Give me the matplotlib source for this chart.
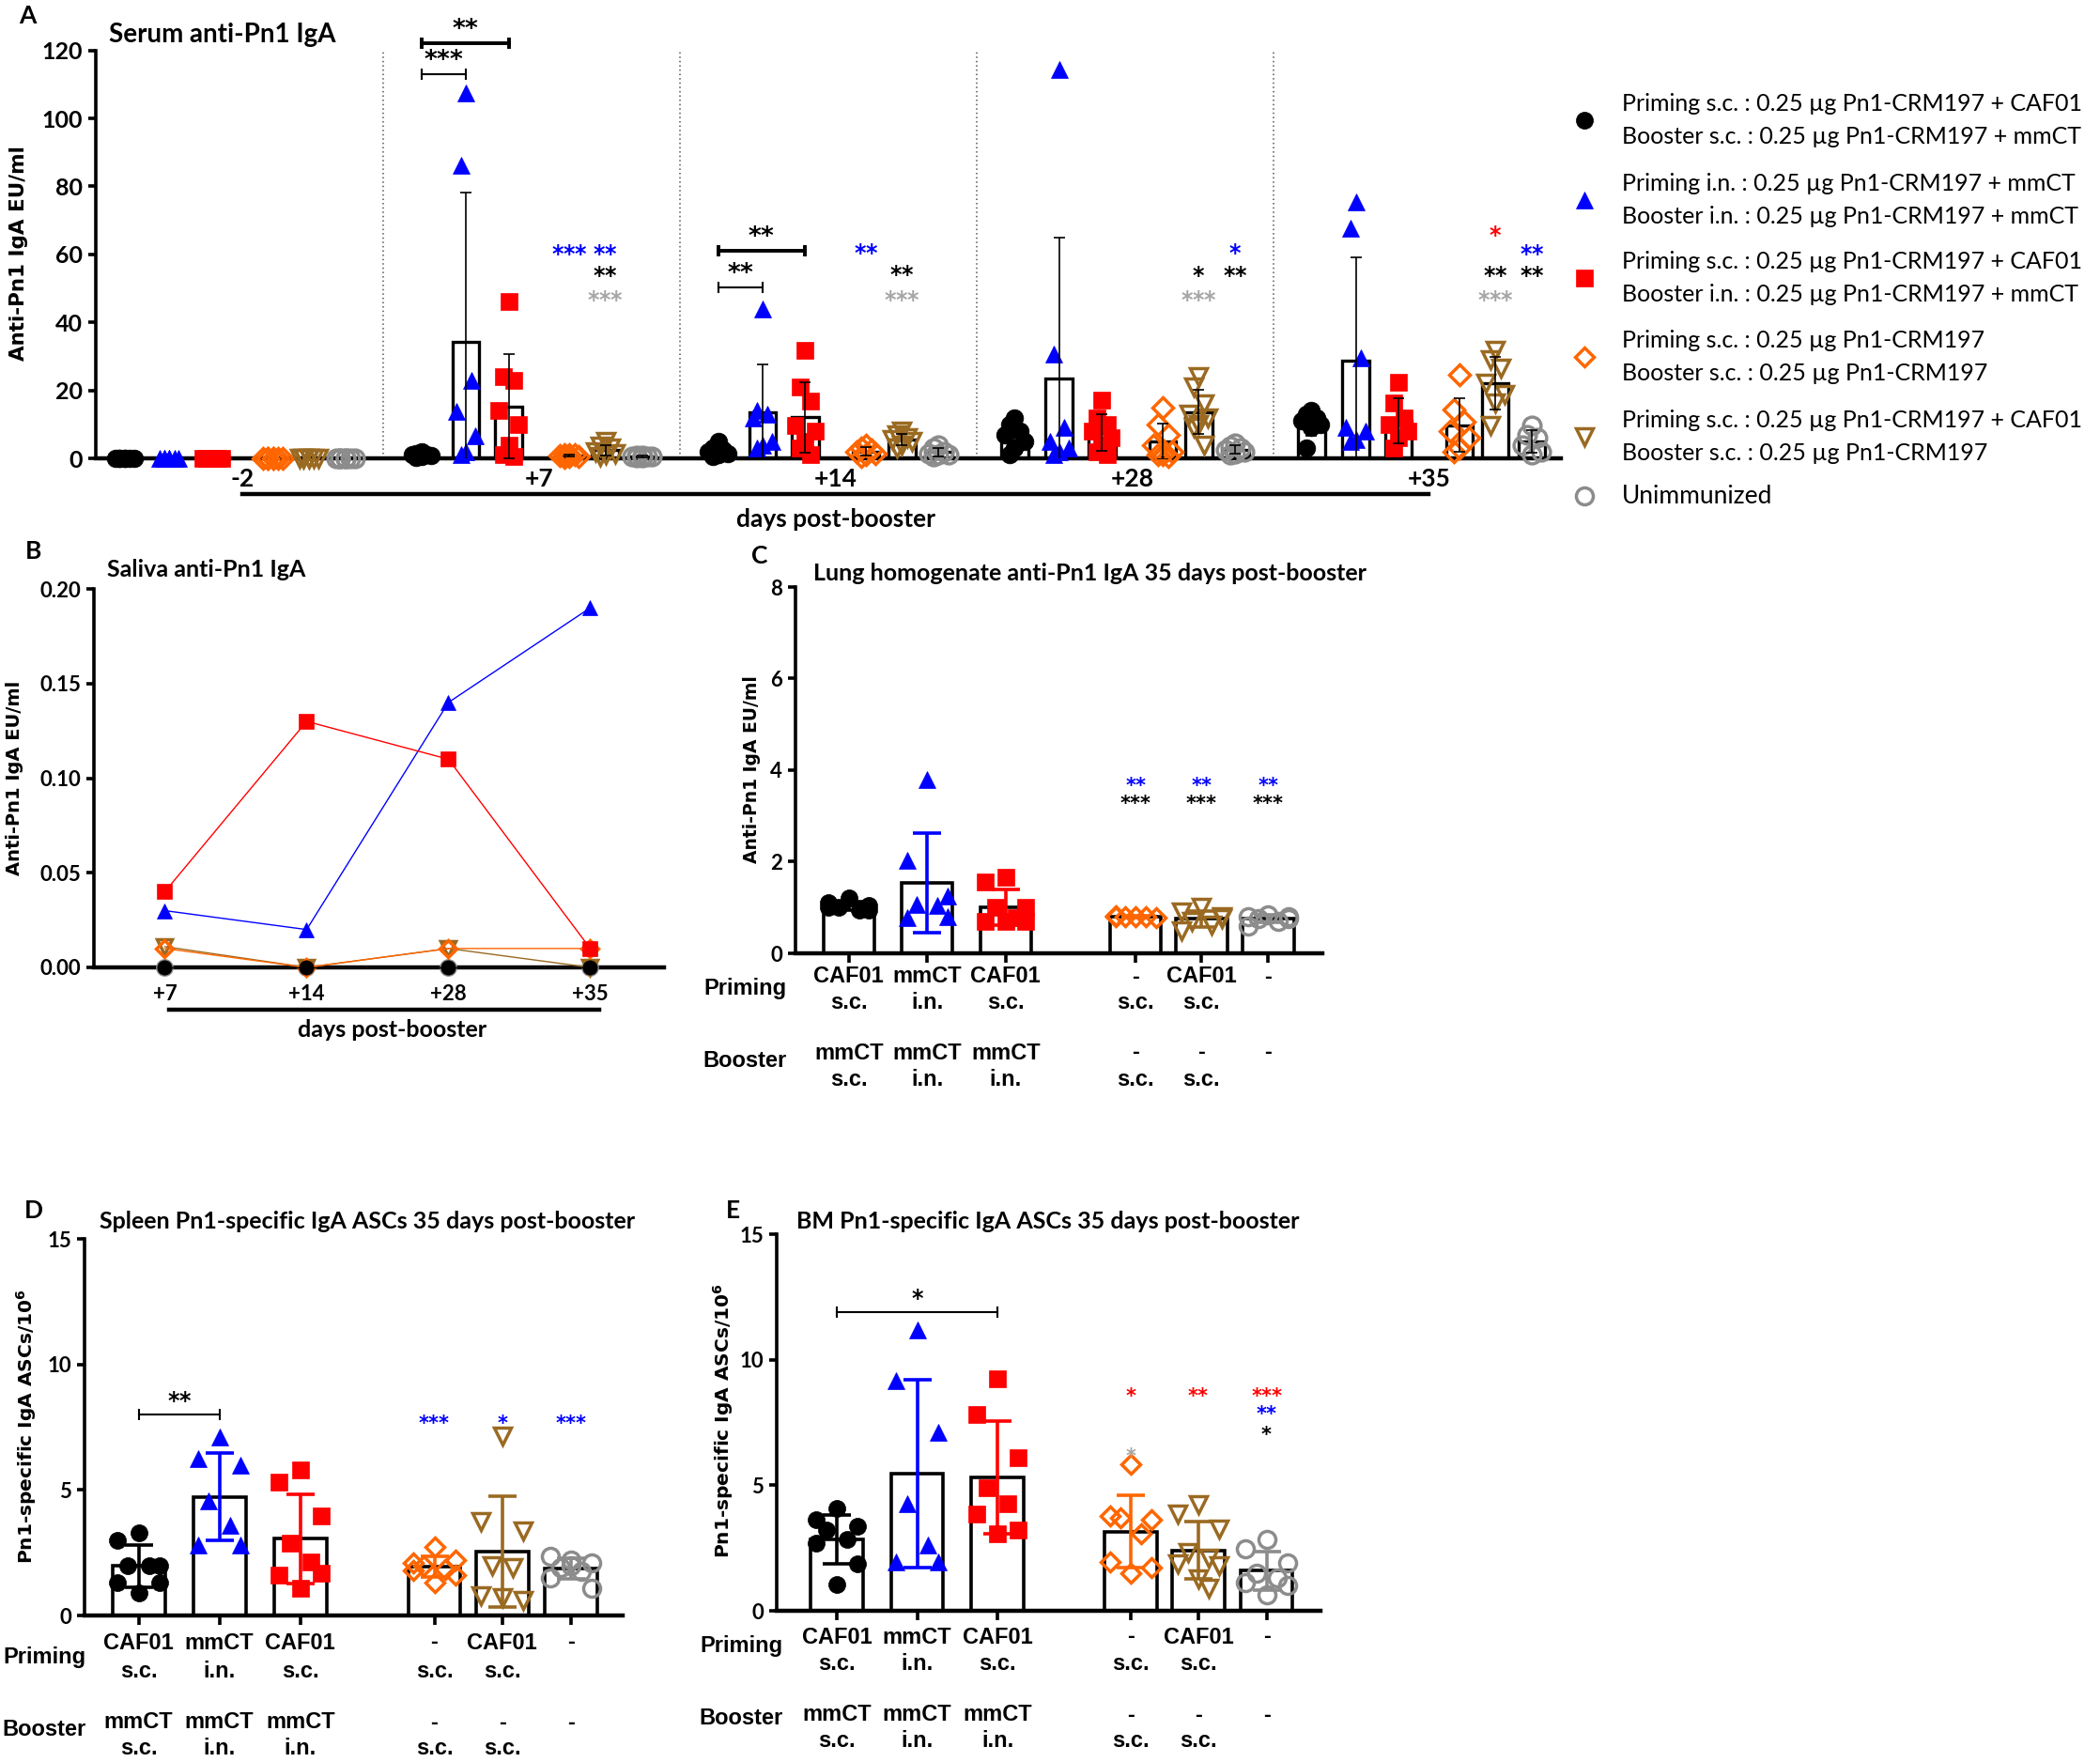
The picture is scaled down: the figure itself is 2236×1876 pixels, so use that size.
import matplotlib
matplotlib.use("Agg")
import matplotlib.pyplot as plt
import matplotlib.transforms as mtransforms
import numpy as np

W, H = 2236, 1876

BLACK = "#000000"
BLUE = "#0000FF"
RED = "#FF0000"
ORANGE = "#FF6600"
BROWN = "#9A6A22"
GRAY = "#8C8C8C"
STAR_GRAY = "#A6A6A6"

COLORS = [BLACK, BLUE, RED, ORANGE, BROWN, GRAY]
MARKERS = ["o", "^", "s", "D", "v", "o"]
OPEN = [False, False, False, True, True, True]

LEGEND_TOP = [
    "Priming s.c. : 0.25 µg Pn1-CRM197 + CAF01",
    "Priming i.n. : 0.25 µg Pn1-CRM197 + mmCT",
    "Priming s.c. : 0.25 µg Pn1-CRM197 + CAF01",
    "Priming s.c. : 0.25 µg Pn1-CRM197",
    "Priming s.c. : 0.25 µg Pn1-CRM197 + CAF01",
    "Unimmunized",
]
LEGEND_BOTTOM = [
    "Booster s.c. : 0.25 µg Pn1-CRM197 + mmCT",
    "Booster i.n. : 0.25 µg Pn1-CRM197 + mmCT",
    "Booster i.n. : 0.25 µg Pn1-CRM197 + mmCT",
    "Booster s.c. : 0.25 µg Pn1-CRM197",
    "Booster s.c. : 0.25 µg Pn1-CRM197",
    "",
]

# ---- panel A: serum IgA, one list per day ----
A_DAYS = ["-2", "+7", "+14", "+28", "+35"]
A_BLACK = [
    [0, 0, 0, 0, 0, 0, 0],
    [2.0, 1.5, 1.2, 1.0, 0.8, 0.5, 0.3],
    [5.0, 3.0, 2.5, 2.0, 1.5, 1.0, 0.5],
    [12.0, 10.0, 8.0, 7.0, 5.0, 3.0, 1.0],
    [14.0, 13.0, 12.0, 11.0, 10.0, 9.0, 3.0],
]
A_BLUE = [
    [0, 0, 0, 0, 0, 0, 0],
    [107.5, 86.3, 23.0, 13.8, 6.6, 2.0, 1.0],
    [44.0, 14.0, 13.0, 12.0, 5.0, 4.0, 3.0],
    [114.4, 30.6, 9.2, 5.0, 3.0, 2.0, 1.0],
    [75.4, 67.6, 29.6, 9.2, 8.0, 5.6, 5.0],
]
A_RED = [
    [0, 0, 0, 0, 0, 0, 0, 0],
    [46.0, 24.0, 23.0, 14.0, 10.0, 4.0, 1.0, 0.5],
    [31.7, 20.9, 16.9, 9.7, 8.0, 5.1, 3.0, 1.0],
    [17.0, 12.0, 10.0, 8.0, 6.0, 4.0, 2.0, 1.0],
    [22.5, 16.3, 12.0, 10.0, 8.0, 6.0, 3.0],
]
A_ORANGE = [
    [0, 0, 0, 0, 0, 0, 0],
    [1.2, 1.0, 1.0, 0.8, 0.6, 0.5, 0.3],
    [4.0, 3.0, 2.5, 2.0, 1.5, 1.0, 0.5],
    [15.0, 10.0, 7.0, 4.0, 2.0, 1.0, 1.0, 0.5],
    [24.5, 14.3, 10.7, 8.0, 6.0, 3.0, 2.0],
]
A_BROWN = [
    [0, 0, 0, 0, 0, 0, 0],
    [5.0, 3.5, 3.0, 2.0, 1.5, 1.0, 0.5],
    [8.0, 7.0, 6.0, 5.5, 5.0, 4.0, 3.0],
    [24.0, 21.0, 16.0, 13.0, 12.0, 10.0, 9.0, 4.0],
    [31.7, 29.0, 26.6, 22.0, 18.9, 16.3, 9.7],
]
A_GRAY = [
    [0, 0, 0, 0, 0, 0, 0],
    [0.8, 0.7, 0.6, 0.5, 0.5, 0.4, 0.3],
    [4.0, 3.0, 2.0, 1.5, 1.0, 1.0, 0.5],
    [4.5, 3.5, 3.0, 2.5, 2.0, 1.5, 1.0],
    [9.7, 7.0, 6.0, 4.0, 2.0, 1.0],
]
# (day, slot, y, text, colour)
A_STARS = [
    (1, 3, 61.3, "***", BLUE), (1, 4, 61.3, "**", BLUE), (1, 4, 54.9, "**", BLACK), (1, 4, 47.5, "***", STAR_GRAY),
    (2, 3, 61.5, "**", BLUE), (2, 4, 55.0, "**", BLACK), (2, 4, 47.5, "***", STAR_GRAY),
    (3, 5, 61.4, "*", BLUE), (3, 4, 54.9, "*", BLACK), (3, 5, 54.9, "**", BLACK), (3, 4, 47.5, "***", STAR_GRAY),
    (4, 4, 66.6, "*", RED), (4, 5, 61.1, "**", BLUE), (4, 4, 54.9, "**", BLACK), (4, 5, 54.9, "**", BLACK),
    (4, 4, 47.5, "***", STAR_GRAY),
]
# (day, slot from, slot to, y, text, line width)
A_BRACKETS = [
    (1, 0, 1, 113.0, "***", 1.5),
    (1, 0, 2, 122.0, "**", 2.8),
    (2, 0, 1, 50.3, "**", 1.5),
    (2, 0, 2, 61.0, "**", 2.8),
]

# ---- panel B: saliva IgA (pooled) ----
B_DAYS = ["+7", "+14", "+28", "+35"]
B_BLACK = [0.0, 0.0, 0.0, 0.0]
B_BLUE = [0.03, 0.02, 0.14, 0.19]
B_RED = [0.04, 0.13, 0.11, 0.01]
B_ORANGE = [0.01, 0.0, 0.01, 0.01]
B_BROWN = [0.011, 0.0, 0.01, 0.0]
B_GRAY = [0.0, 0.0, 0.0, 0.0]

# ---- panel C/D/E category rows ----
PRIMING_TOP = ["CAF01", "mmCT", "CAF01", "-", "CAF01", "-"]
PRIMING_BOTTOM = ["s.c.", "i.n.", "s.c.", "s.c.", "s.c.", ""]
BOOSTER_TOP = ["mmCT", "mmCT", "mmCT", "-", "-", "-"]
BOOSTER_BOTTOM = ["s.c.", "i.n.", "i.n.", "s.c.", "s.c.", ""]

# ---- panel C: lung homogenate ----
C_VALUES = [
    [1.22, 1.10, 1.05, 1.00, 0.95, 1.00, 0.95],
    [3.79, 2.03, 1.26, 1.06, 1.05, 0.77, 0.81],
    [1.67, 1.55, 1.00, 1.00, 0.77, 0.70, 0.70, 0.70],
    [0.80, 0.82, 0.78, 0.80, 0.79, 0.81],
    [1.00, 0.90, 0.80, 0.70, 0.61, 0.49, 0.75],
    [0.85, 0.80, 0.80, 0.75, 0.70, 0.60, 0.75],
]
C_STARS = [(3, 3.74, "**", BLUE), (3, 3.36, "***", BLACK), (4, 3.74, "**", BLUE), (4, 3.36, "***", BLACK),
           (5, 3.74, "**", BLUE), (5, 3.36, "***", BLACK)]

# ---- panel D: spleen ASCs ----
D_VALUES = [
    [3.30, 3.00, 2.00, 2.00, 2.00, 1.30, 1.30, 0.90],
    [7.10, 6.25, 6.00, 4.56, 3.60, 2.80, 2.80],
    [5.80, 5.30, 3.97, 2.87, 2.13, 1.62, 1.70, 1.10],
    [2.72, 2.10, 2.20, 2.00, 1.84, 1.80, 1.60, 1.32],
    [7.13, 3.75, 3.38, 2.00, 1.90, 0.80, 0.60, 0.70],
    [2.20, 2.35, 2.10, 1.90, 1.76, 1.50, 1.10, 2.00],
]
D_STARS = [(3, 7.8, "***", BLUE), (4, 7.8, "*", BLUE), (5, 7.8, "***", BLUE)]
D_BRACKET = (0, 1, 8.0, "**")

# ---- panel E: bone marrow ASCs ----
E_VALUES = [
    [4.08, 3.64, 3.37, 3.20, 2.83, 2.70, 1.87, 1.06],
    [11.18, 9.16, 7.10, 4.27, 2.60, 1.94, 1.94],
    [9.23, 7.83, 6.11, 4.89, 4.27, 3.86, 3.20, 3.08],
    [5.85, 3.78, 3.64, 3.70, 3.05, 1.94, 1.72, 1.50],
    [4.23, 3.86, 3.27, 2.31, 2.10, 1.87, 1.80, 1.28, 0.90],
    [2.83, 2.46, 1.90, 1.50, 1.30, 1.13, 1.00, 0.62],
]
E_STARS = [(3, 8.69, "*", RED), (3, 6.29, "*", STAR_GRAY), (4, 8.69, "**", RED),
           (5, 8.69, "***", RED), (5, 7.98, "**", BLUE), (5, 7.14, "*", BLACK)]
E_BRACKET = (0, 2, 11.88, "*")

# layout
A_STEP = 6.87
A_SLOTS = [0.0, 1.03, 2.02, 3.43, 4.26, 5.11]
A_JITTER = [0.0, -0.12, 0.12, -0.22, 0.22, 0.0, -0.12, 0.12]
CDE_POS = [0.0, 1.0, 2.0, 3.66, 4.5, 5.35]
CDE_JITTER = [0.0, -0.26, 0.26, -0.13, 0.13, -0.26, 0.26, 0.0, 0.13]

plt.rcParams.update({
    "font.family": ["Lato", "DejaVu Sans"],
    "font.weight": "bold",
    "mathtext.fontset": "dejavusans",
    "axes.linewidth": 2.6,
    "xtick.major.width": 2.6,
    "ytick.major.width": 2.6,
    "xtick.major.size": 6,
    "ytick.major.size": 6,
    "xtick.labelsize": 16,
    "ytick.labelsize": 16,
})

fig = plt.figure(figsize=(W / 100, H / 100), dpi=100)


def px_axes(x0, y0, x1, y1):
    ax = fig.add_axes([x0 / W, 1 - y1 / H, (x1 - x0) / W, (y1 - y0) / H])
    ax.spines["top"].set_visible(False)
    ax.spines["right"].set_visible(False)
    ax.tick_params(axis="both", direction="out", pad=4)
    return ax


def mstyle(i, size):
    m = MARKERS[i]
    st = dict(marker=m, linestyle="none", markersize=size * (0.82 if m == "D" else 1.0))
    if OPEN[i]:
        st.update(markerfacecolor="none", markeredgecolor=COLORS[i], markeredgewidth=2.5)
    else:
        st.update(markerfacecolor=COLORS[i], markeredgecolor=COLORS[i], markeredgewidth=0.5)
    return st


def stars(ax, x, y, text, color, size=15):
    # braces keep mathtext from spacing the asterisks as operators
    s = r"$\mathbf{" + "".join("{*}" for _ in text) + "}$"
    ax.annotate(s, (x, y), xytext=(0, -0.40 * size), textcoords="offset points",
                ha="center", va="baseline", color=color, fontsize=size,
                annotation_clip=False, zorder=6)


def bracket(ax, x0, x1, y, lw):
    ax.plot([x0, x1], [y, y], color=BLACK, lw=lw, marker="|", markersize=8,
            markeredgewidth=lw, clip_on=False, zorder=6)


ov = fig.add_axes([0, 0, 1, 1], zorder=10)
ov.set_xlim(0, W)
ov.set_ylim(H, 0)
ov.axis("off")


def ylab(x, y, text, size):
    ov.text(x, y, text, rotation=90, ha="center", va="center", fontsize=size,
            fontweight="bold", family="DejaVu Sans")


def title(x, y, text, size=18):
    ov.text(x, y, text, ha="left", va="center", fontsize=size, fontweight="bold")


# ================= panel A =================
axA = px_axes(102, 53.6, 1662, 488)
axA.set_xlim(-0.67, 4 * A_STEP + A_SLOTS[-1] + 0.67)
axA.set_ylim(0, 120)
axA.set_yticks(np.arange(0, 121, 20))
axA.set_xticks([])
axA.tick_params(axis="y", labelsize=18)
axA.spines["bottom"].set_linewidth(3.2)

a_series = [A_BLACK, A_BLUE, A_RED, A_ORANGE, A_BROWN, A_GRAY]
for d in range(len(A_DAYS)):
    base = d * A_STEP
    for i, series in enumerate(a_series):
        vals = np.array(series[d], dtype=float)
        x = base + A_SLOTS[i]
        mean = vals.mean()
        sd = vals.std(ddof=1)
        axA.bar(x, mean, width=0.62, facecolor="none", edgecolor=BLACK, linewidth=2.4, zorder=2)
        xs = [x + A_JITTER[k % len(A_JITTER)] for k in range(len(vals))]
        axA.plot(xs, vals, clip_on=False, zorder=3, **mstyle(i, 13.5))
        if mean > 0:
            axA.errorbar(x, mean, yerr=sd, fmt="none", ecolor=BLACK, elinewidth=1.2,
                         capsize=4.5, capthick=1.2, zorder=4)
    if d > 0:
        axA.axvline(base - (A_STEP - A_SLOTS[-1]) / 2, color="#555555", lw=1.1,
                    linestyle=(0, (1, 2)), zorder=1)

for d, slot, y, txt, col in A_STARS:
    stars(axA, d * A_STEP + A_SLOTS[slot], y, txt, col, 17)
for d, s0, s1, y, txt, lw in A_BRACKETS:
    x0 = d * A_STEP + A_SLOTS[s0]
    x1 = d * A_STEP + A_SLOTS[s1]
    bracket(axA, x0, x1, y, lw)
    stars(axA, (x0 + x1) / 2, y + 5.5, txt, BLACK, 19)

trA = mtransforms.blended_transform_factory(axA.transData, ov.transData)
for d, lab in enumerate(A_DAYS):
    ov.text(d * A_STEP + 2.72, 510, lab, transform=trA, ha="center", va="center", fontsize=19)
ov.plot([2.72, 4 * A_STEP + 2.72], [526, 526], color=BLACK, lw=3.2, transform=trA)
ov.text(2 * A_STEP + 2.72, 553, "days post-booster", transform=trA, ha="center", va="center", fontsize=19)
ylab(20, 270, "Anti-Pn1 IgA EU/ml", 15.5)
title(116, 37, "Serum anti-Pn1 IgA", 20)
ov.text(29, 17, "A", ha="center", va="center", fontsize=19, fontweight="bold")

# legend
leg_y = [128, 213, 296, 380, 465, 528]
for i, y in enumerate(leg_y):
    ov.plot([1687], [y], **mstyle(i, 13))
    if LEGEND_BOTTOM[i]:
        ov.text(1727, y - 17.5, LEGEND_TOP[i], ha="left", va="center", fontsize=18, fontweight="normal")
        ov.text(1727, y + 17.5, LEGEND_BOTTOM[i], ha="left", va="center", fontsize=18, fontweight="normal")
    else:
        ov.text(1727, y, LEGEND_TOP[i], ha="left", va="center", fontsize=19, fontweight="normal")

# ================= panel B =================
axB = px_axes(100, 627, 707, 1030)
axB.set_xlim(-0.5, 3.52)
axB.set_ylim(0, 0.2)
axB.set_yticks([0, 0.05, 0.10, 0.15, 0.20])
axB.set_yticklabels(["0.00", "0.05", "0.10", "0.15", "0.20"])
axB.set_xticks(range(len(B_DAYS)))
axB.set_xticklabels(B_DAYS)
axB.tick_params(axis="x", pad=7)
axB.spines["bottom"].set_linewidth(3.2)
xB = np.arange(len(B_DAYS))
for i, series in [(5, B_GRAY), (4, B_BROWN), (3, B_ORANGE), (0, B_BLACK), (1, B_BLUE), (2, B_RED)]:
    st = mstyle(i, 11)
    st.pop("linestyle")
    axB.plot(xB, series, color=COLORS[i], lw=1.0, clip_on=False, zorder=3, **st)
trB = mtransforms.blended_transform_factory(axB.transData, ov.transData)
ov.plot([0.03, 3.06], [1075, 1075], color=BLACK, lw=3.2, transform=trB)
ov.text(1.6, 1096, "days post-booster", transform=trB, ha="center", va="center", fontsize=18)
ylab(16, 828, "Anti-Pn1 IgA EU/ml", 14)
title(114, 606, "Saliva anti-Pn1 IgA")
ov.text(36, 587, "B", ha="center", va="center", fontsize=19, fontweight="bold")


# ================= panels C, D, E =================
def bar_panel(rect, xlim, ylim, yticks, values, marker_size):
    ax = px_axes(*rect)
    ax.set_xlim(*xlim)
    ax.set_ylim(*ylim)
    ax.set_yticks(yticks)
    ax.set_xticks(CDE_POS)
    ax.set_xticklabels([])
    ax.tick_params(axis="x", length=7)
    ax.spines["bottom"].set_linewidth(3.2)
    for i, vals in enumerate(values):
        vals = np.array(vals, dtype=float)
        x = CDE_POS[i]
        ax.bar(x, vals.mean(), width=0.65, facecolor="none", edgecolor=BLACK, linewidth=2.6, zorder=2)
        xs = [x + CDE_JITTER[k % len(CDE_JITTER)] for k in range(len(vals))]
        ax.plot(xs, vals, clip_on=False, zorder=3, **mstyle(i, marker_size))
        ax.errorbar(x, vals.mean(), yerr=vals.std(ddof=1), fmt="none", ecolor=COLORS[i],
                    elinewidth=2.6, capsize=11, capthick=2.6, zorder=4)
    return ax


def rows(ax, label_x, pri, boo):
    tr = mtransforms.blended_transform_factory(ax.transData, ov.transData)
    kw = dict(ha="center", va="center", fontsize=17, fontweight="bold", family="Liberation Sans")
    for i, x in enumerate(CDE_POS):
        ov.text(x, pri[0], PRIMING_TOP[i], transform=tr, **kw)
        if PRIMING_BOTTOM[i]:
            ov.text(x, pri[1], PRIMING_BOTTOM[i], transform=tr, **kw)
        ov.text(x, boo[0], BOOSTER_TOP[i], transform=tr, **kw)
        if BOOSTER_BOTTOM[i]:
            ov.text(x, boo[1], BOOSTER_BOTTOM[i], transform=tr, **kw)
    ov.text(label_x, pri[2], "Priming", **kw)
    ov.text(label_x, boo[2], "Booster", **kw)


axC = bar_panel((847, 625, 1408, 1015), (-0.68, 6.04), (0, 8), [0, 2, 4, 6, 8], C_VALUES, 13)
for g, y, txt, col in C_STARS:
    stars(axC, CDE_POS[g], y, txt, col)
rows(axC, 793, (1040, 1068, 1052), (1121, 1149, 1129))
ylab(800, 819, "Anti-Pn1 IgA EU/ml", 13.5)
title(866, 611, "Lung homogenate anti-Pn1 IgA 35 days post-booster")
ov.text(809, 592, "C", ha="center", va="center", fontsize=19, fontweight="bold")

axD = bar_panel((90, 1319, 663, 1720), (-0.67, 5.99), (0, 15), [0, 5, 10, 15], D_VALUES, 13)
for g, y, txt, col in D_STARS:
    stars(axD, CDE_POS[g], y, txt, col)
g0, g1, y, txt = D_BRACKET
bracket(axD, CDE_POS[g0], CDE_POS[g1], y, 1.5)
stars(axD, (CDE_POS[g0] + CDE_POS[g1]) / 2, y + 0.7, txt, BLACK, 17)
rows(axD, 47, (1749, 1779, 1765), (1834, 1861, 1842))
ylab(28, 1519, r"Pn1-specific IgA ASCs/10$^{\mathbf{6}}$", 14.5)
title(106, 1301, "Spleen Pn1-specific IgA ASCs 35 days post-booster")
ov.text(36, 1289, "D", ha="center", va="center", fontsize=19, fontweight="bold")

axE = bar_panel((827, 1314, 1406, 1715), (-0.75, 6.02), (0, 15), [0, 5, 10, 15], E_VALUES, 13)
for g, y, txt, col in E_STARS:
    stars(axE, CDE_POS[g], y, txt, col)
g0, g1, y, txt = E_BRACKET
bracket(axE, CDE_POS[g0], CDE_POS[g1], y, 1.5)
stars(axE, (CDE_POS[g0] + CDE_POS[g1]) / 2, y + 0.72, txt, BLACK, 17)
rows(axE, 789, (1743, 1771, 1753), (1826, 1853, 1830))
ylab(770, 1513, r"Pn1-specific IgA ASCs/10$^{\mathbf{6}}$", 14.5)
title(848, 1301, "BM Pn1-specific IgA ASCs 35 days post-booster")
ov.text(780, 1289, "E", ha="center", va="center", fontsize=19, fontweight="bold")

for ax in (axA, axB, axC, axD, axE):
    for lab in ax.get_xticklabels() + ax.get_yticklabels():
        lab.set_fontweight("bold")

fig.savefig("out.png", dpi=100)
